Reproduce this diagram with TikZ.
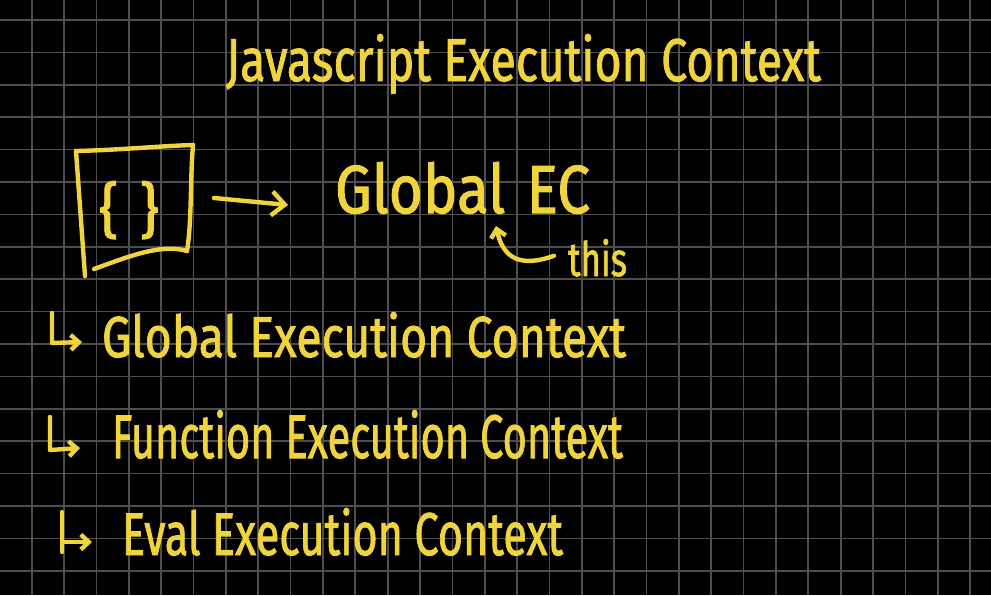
\documentclass[tikz,border=0pt]{standalone}
\usepackage{fontspec}
\setmainfont[FakeBold=1.6]{Fira Sans}
\usetikzlibrary{arrows.meta,calc}
\definecolor{ink}{RGB}{240,212,62}
\definecolor{gridc}{RGB}{78,78,78}
\newcommand{\fitto}[3]{\resizebox{#1pt}{#2pt}{#3}}
\begin{document}
\begin{tikzpicture}[x=1pt,y=-1pt,
  txt/.style={inner sep=0pt,outer sep=0pt,text=ink,font=\fontsize{40}{48}\selectfont},
  pen/.style={draw=ink,line width=4.4pt,line cap=round,line join=round},
  gridline/.style={draw=gridc,line width=1.7pt},
  barb/.style={-{Straight Barb[length=13pt,width=24pt]}},
  smallbarb/.style={-{Straight Barb[length=8pt,width=15pt]}}]
\useasboundingbox (0,0) rectangle (991,595);
\fill[black] (0,0) rectangle (991,595);
\begin{scope}
\clip (0,0) rectangle (991,595);
\foreach \i in {0,...,29} \draw[gridline] ({31.7+32.36*\i},0) -- ++(0,595);
\foreach \j in {0,...,17} \draw[gridline] (0,{20+32.4*\j}) -- ++(991,0);
\end{scope}
% title
\node[txt,anchor=base west] (title) at (226,81) {\fitto{595}{47}{Javascript Execution Context}};
% box with braces
\node[txt,anchor=base] (braces) at (129,231) {\fitto{60}{50}{\{\hspace{0.35em}\}}};
\coordinate (boxtl) at (76,151);
\coordinate (boxbl) at (85,276);
\coordinate (boxtr) at (193,145);
\coordinate (boxbr) at (187,251);
\coordinate (boxbs) at (94,269);
\draw[pen] (boxtl) -- (boxbl);
\draw[pen] (boxtl) .. controls (120,150) and (160,146) .. (boxtr);
\draw[pen] (boxtr) .. controls (190,180) and (192,220) .. (boxbr);
\draw[pen] (boxbs) .. controls (125,258) and (160,243) .. (boxbr);
% arrow to Global EC
\node[txt,anchor=base west] (global) at (335,213) {\fitto{255}{51}{Global\hspace{0.1em} EC}};
\coordinate (arrowstart) at (214,198);
\coordinate (arrowend) at (288,205);
\draw[pen,barb] (arrowstart) -- (arrowend);
% this
\node[txt,anchor=base west] (this) at (568,276) {\fitto{59}{37}{this}};
\coordinate (thistip) at (496,226);
\draw[pen,smallbarb] ($(this.west)+(-14,-2)$) .. controls (520,268) and (503,258) .. (thistip);
% list
\node[txt,anchor=base west] (l1) at (102,357) {\fitto{524}{45}{Global Execution Context}};
\node[txt,anchor=base west] (l2) at (112,458) {\fitto{511}{48}{Function Execution Context}};
\node[txt,anchor=base west] (l3) at (122,555) {\fitto{441}{47}{Eval Execution Context}};
% hook arrows
\coordinate (h1a) at (52,313); \coordinate (h1b) at (52,343); \coordinate (h1c) at (82,342);
\draw[pen,smallbarb] (h1a) -- (h1b) -- (h1c);
\coordinate (h2a) at (50,417); \coordinate (h2b) at (50,450); \coordinate (h2c) at (80,448);
\draw[pen,smallbarb] (h2a) -- (h2b) -- (h2c);
\coordinate (h3a) at (62,512); \coordinate (h3b) at (62,552); \coordinate (h3m) at (62,542); \coordinate (h3c) at (92,542);
\draw[pen] (h3a) -- (h3b);
\draw[pen,smallbarb] (h3m) -- (h3c);
\end{tikzpicture}
\end{document}
